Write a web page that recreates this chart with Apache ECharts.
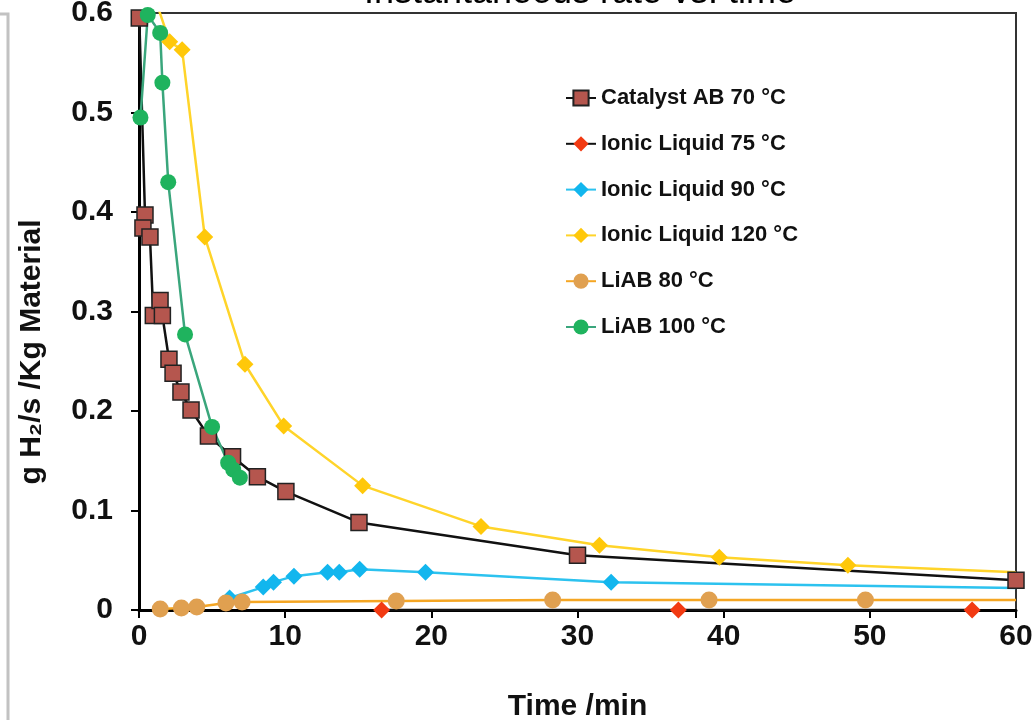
<!DOCTYPE html>
<html>
<head>
<meta charset="utf-8">
<script src="https://cdn.jsdelivr.net/npm/echarts@6/dist/echarts.min.js"></script>
<style>
  html, body { margin: 0; padding: 0; background: #fff; }
  #chart { width: 1036px; height: 720px; }
</style>
</head>
<body>
<div id="chart"></div>
<script>
// values (x: minutes, y: g H2/s/kg)
const catalystX = [0.02, 0.41, 0.27, 0.75, 0.98, 1.44, 1.6, 2.05, 2.33, 2.87, 3.56, 4.75, 6.4, 8.1, 10.05, 15.05, 30.0, 60.0]
const catalystY = [0.595, 0.397, 0.384, 0.375, 0.296, 0.311, 0.296, 0.252, 0.238, 0.219, 0.201, 0.175, 0.154, 0.134, 0.119, 0.088, 0.055, 0.030]

const il75X = [16.6, 36.9, 57.0]
const il75Y = [0.0, 0.0, 0.0]

const il90X = [6.2, 8.5, 9.2, 10.6, 12.9, 13.7, 15.1, 19.6, 32.3, 60.0]
const il90Y = [0.012, 0.023, 0.028, 0.034, 0.038, 0.038, 0.041, 0.038, 0.028, 0.022]

const il120X = [1.2, 2.1, 2.95, 4.5, 7.25, 9.9, 15.3, 23.4, 31.5, 39.7, 48.5, 60.0]
const il120Y = [0.61, 0.571, 0.563, 0.375, 0.247, 0.185, 0.125, 0.084, 0.065, 0.053, 0.045, 0.038]

const liab80X = [1.45, 2.9, 3.95, 5.95, 7.05, 17.6, 28.3, 39.0, 49.7, 60.0]
const liab80Y = [0.001, 0.002, 0.003, 0.007, 0.008, 0.009, 0.010, 0.010, 0.010, 0.010]

const liab100X = [0.1, 0.6, 1.45, 1.6, 2.0, 3.15, 5.0, 6.1, 6.45, 6.9]
const liab100Y = [0.495, 0.598, 0.580, 0.530, 0.430, 0.277, 0.184, 0.148, 0.141, 0.133]

const xTicks = { min: 0, max: 60, step: 10 }
const yTicks = { min: 0, max: 0.6, step: 0.1 }

const FONT = '"Liberation Sans", Arial, sans-serif'

// trailing points drawn as line ends only (no marker in the original)
function pts(xs, ys, bareLast) {
  return xs.map((x, i) => {
    if (bareLast && i === xs.length - 1) return { value: [x, ys[i]], symbol: 'none' }
    return [x, ys[i]]
  })
}

const chart = echarts.init(document.getElementById('chart'), null, { renderer: 'canvas' })

chart.setOption({
  animation: false,
  backgroundColor: '#fff',
  graphic: [
    {
      type: 'text',
      x: 580,
      y: 11,
      style: {
        text: 'Instantaneous rate vs. time',
        font: '36px ' + FONT,
        fill: '#000',
        textAlign: 'center',
        textVerticalAlign: 'bottom',
      },
    },
    {
      type: 'polyline',
      shape: { points: [[0, 14], [8, 14], [8, 720]] },
      style: { stroke: '#c2c2c2', lineWidth: 3, fill: null },
    },
    {
      type: 'text',
      x: 32,
      y: 352,
      rotation: Math.PI / 2,
      style: {
        text: 'g H₂/s /Kg Material',
        font: 'bold 30px ' + FONT,
        fill: '#111',
        textAlign: 'center',
        textVerticalAlign: 'middle',
      },
    },
  ],
  grid: {
    left: 139,
    right: 20,
    top: 13,
    bottom: 110,
    outerBoundsMode: 'none',
    containLabel: false,
    show: true,
    borderColor: '#333',
    borderWidth: 2,
    backgroundColor: '#fff',
  },
  legend: {
    orient: 'vertical',
    left: 565,
    top: 87,
    padding: 0,
    itemWidth: 30,
    itemHeight: 19,
    itemGap: 23.8,
    textStyle: { fontFamily: FONT, fontWeight: 'bold', fontSize: 22, color: '#111', lineHeight: 22 },
  },
  xAxis: {
    type: 'value',
    min: xTicks.min,
    max: xTicks.max,
    interval: xTicks.step,
    name: 'Time /min',
    nameLocation: 'middle',
    nameGap: 82,
    nameTextStyle: { fontFamily: FONT, fontWeight: 'bold', fontSize: 30, color: '#111' },
    axisLine: { show: true, lineStyle: { color: '#000', width: 3 } },
    axisTick: { show: true, inside: false, length: 8, lineStyle: { color: '#000', width: 2 } },
    axisLabel: { fontFamily: FONT, fontWeight: 'bold', fontSize: 30, color: '#111', margin: 12 },
    splitLine: { show: false },
  },
  yAxis: {
    type: 'value',
    min: yTicks.min,
    max: yTicks.max,
    interval: yTicks.step,
    axisLine: { show: true, lineStyle: { color: '#000', width: 3 } },
    axisTick: { show: true, inside: false, length: 8, lineStyle: { color: '#000', width: 2 } },
    axisLabel: { fontFamily: FONT, fontWeight: 'bold', fontSize: 30, color: '#111', margin: 26 },
    splitLine: { show: false },
  },
  series: [
    {
      type: 'line',
      name: 'Catalyst AB 70 °C',
      data: pts(catalystX, catalystY),
      symbol: 'rect',
      symbolSize: 16,
      itemStyle: { color: '#b5564e', borderColor: '#222', borderWidth: 1.5 },
      lineStyle: { color: '#111', width: 2.5 },
    },
    {
      type: 'line',
      name: 'Ionic Liquid 75 °C',
      data: pts(il75X, il75Y),
      symbol: 'diamond',
      symbolSize: 17,
      itemStyle: { color: '#f23a12' },
      lineStyle: { color: '#111', width: 2.5 },
    },
    {
      type: 'line',
      name: 'Ionic Liquid 90 °C',
      data: pts(il90X, il90Y, true),
      symbol: 'diamond',
      symbolSize: 17,
      itemStyle: { color: '#12b6ee' },
      lineStyle: { color: '#2cc2ef', width: 2.5 },
    },
    {
      type: 'line',
      name: 'Ionic Liquid 120 °C',
      data: pts(il120X, il120Y, true),
      symbol: 'diamond',
      symbolSize: 17,
      itemStyle: { color: '#ffc80a' },
      lineStyle: { color: '#ffd42a', width: 2.5 },
    },
    {
      type: 'line',
      name: 'LiAB 80 °C',
      data: pts(liab80X, liab80Y, true),
      symbol: 'circle',
      symbolSize: 17,
      itemStyle: { color: '#e0a050' },
      lineStyle: { color: '#f5a623', width: 2.5 },
    },
    {
      type: 'line',
      name: 'LiAB 100 °C',
      data: pts(liab100X, liab100Y),
      symbol: 'circle',
      symbolSize: 16,
      itemStyle: { color: '#1fb35e' },
      lineStyle: { color: '#3aa67c', width: 2.5 },
    },
  ],
})
</script>
</body>
</html>
